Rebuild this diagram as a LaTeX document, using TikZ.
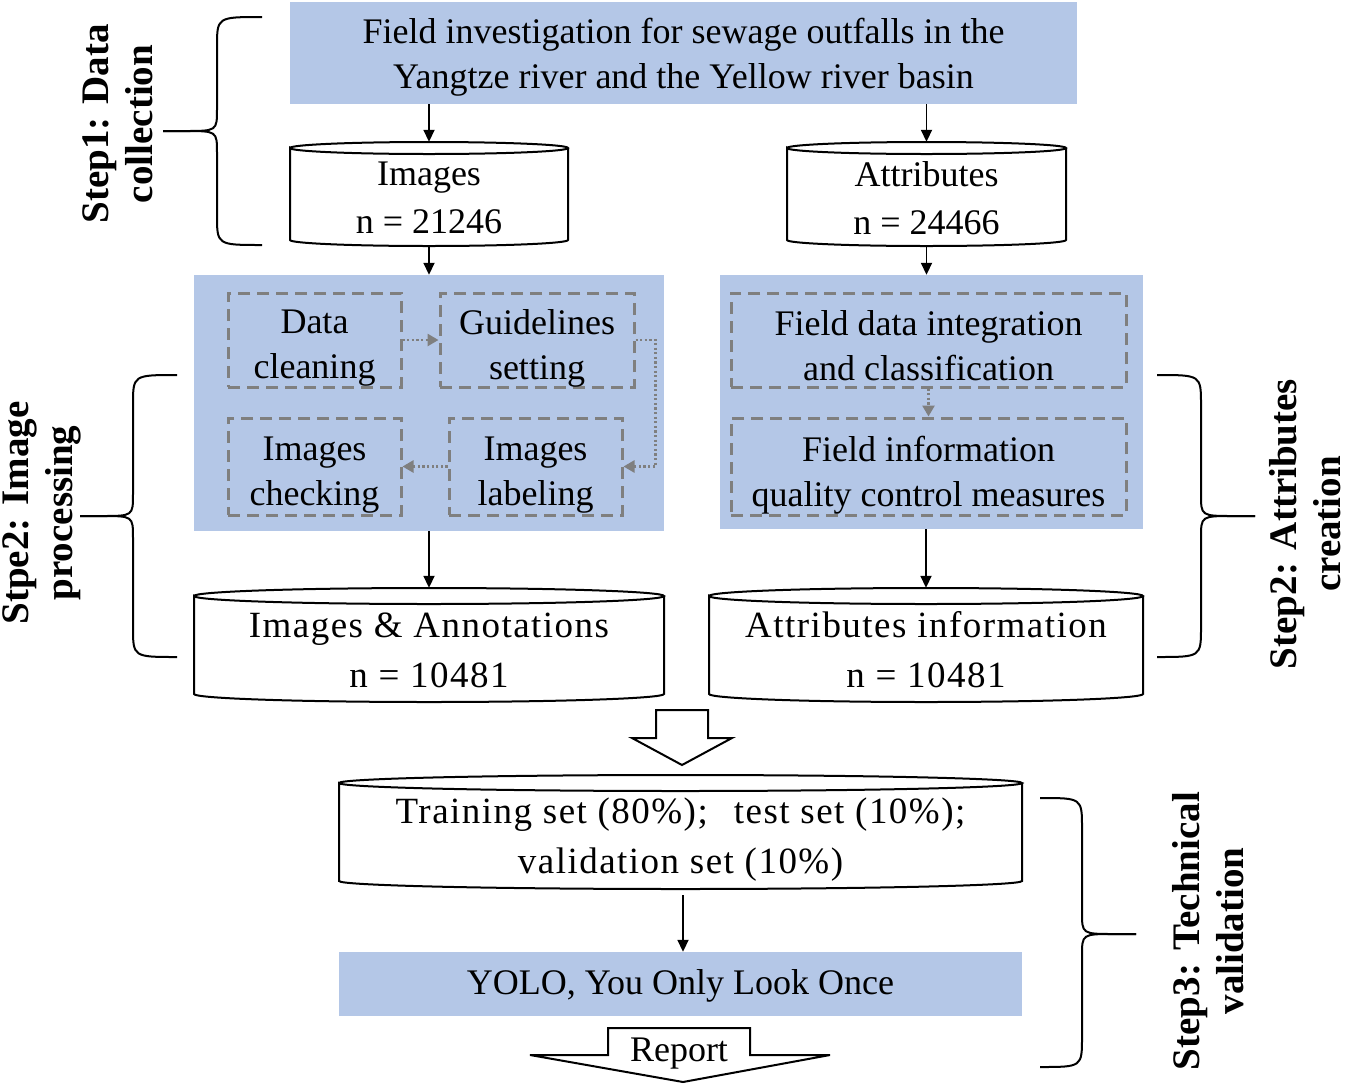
\documentclass[tikz,border=0pt]{standalone}
\usepackage{fontspec}
\setmainfont{Liberation Serif}
\usetikzlibrary{arrows.meta,calc}
\definecolor{boxblue}{HTML}{B4C7E7}
\definecolor{dgray}{HTML}{7F7F7F}
\newcommand\cylpath[5]{% x0, Ytop, x1, Ybot, ry
  \pgfmathsetmacro\cxr{(#3-#1)/2}%
  \pgfmathsetmacro\cyt{-(#2+#5)}%
  \pgfmathsetmacro\cyb{-(#4-#5)}%
  \draw[line width=2pt] (#1,\cyt) arc[start angle=180,end angle=-180,x radius=\cxr pt,y radius=#5 pt]
    -- (#1,\cyb) arc[start angle=180,end angle=360,x radius=\cxr pt,y radius=#5 pt] -- (#3,\cyt);
}
\newcommand\bracepath[6]{% xend, xmid, xtip, Ytop, Ytip, Ybot
  \pgfmathsetmacro\bA{#5-22}\pgfmathsetmacro\bB{#5+22}%
  \pgfmathsetmacro\bT{#4+30}\pgfmathsetmacro\bU{#6-30}%
  \pgfmathsetmacro\bX{#2+(#3-#2)*0.6}%
  \draw[line width=2pt] (#1,-#4) .. controls (#2,-#4) .. (#2,-\bT) -- (#2,-\bA) .. controls (#2,-#5) .. (\bX,-#5) -- (#3,-#5);
  \draw[line width=2pt] (#3,-#5) -- (\bX,-#5) .. controls (#2,-#5) .. (#2,-\bB) -- (#2,-\bU) .. controls (#2,-#6) .. (#1,-#6);
}
\begin{document}
\begin{tikzpicture}[x=1pt,y=1pt,
  txt/.style={font=\fontsize{36}{45}\selectfont, align=center, inner sep=0pt},
  cyltxt/.style={font=\fontsize{36}{48}\selectfont, align=center, inner sep=0pt},
  widetxt/.style={font=\fontsize{37}{50}\selectfont\addfontfeature{LetterSpace=4}, align=center, inner sep=0pt},
  geo/.style={inner sep=0pt},
  bluebox/.style={fill=boxblue, inner sep=0pt},
  dbox/.style={draw=dgray, line width=3pt, dash pattern=on 12pt off 7pt, inner sep=0pt},
  arr/.style={line width=1.8pt, -{Triangle[length=12pt,width=11pt]}},
  darr/.style={draw=dgray, line width=2.6pt, dash pattern=on 2.2pt off 2.4pt, -{Triangle[length=11pt,width=12pt,fill=dgray]}},
  lbl/.style={font=\bfseries\fontsize{39}{44}\selectfont, align=center, rotate=90, inner sep=0pt},
  hollow/.style={draw=black, line width=2pt, fill=white, line join=miter}
]
\useasboundingbox (0,0) rectangle (1350,-1085);
\fill[white] (0,0) rectangle (1350,-1085);

% Step 1
\node[bluebox, minimum width=787pt, minimum height=102pt] (top) at (683.5,-53) {};
\node[txt] (topt) at (683.5,-57)
  {Field investigation for sewage outfalls in the\\Yangtze river and the Yellow river basin};

\cylpath{290}{142}{568}{246}{6}
\node[geo, minimum width=278pt, minimum height=104pt] (img) at (429,-194) {};
\node[cyltxt] (imgt) at (429,-198) {Images\\n = 21246};
\cylpath{787}{142}{1066}{246}{6}
\node[geo, minimum width=279pt, minimum height=104pt] (att) at (926.5,-194) {};
\node[cyltxt] (attt) at (926.5,-198) {Attributes\\n = 24466};

\draw[arr] (top.south -| img.north) -- (img.north);
\draw[arr] (top.south -| att.north) -- (att.north);

% Step 2 boxes
\node[bluebox, minimum width=470pt, minimum height=256pt] (lb) at (429,-403) {};
\node[bluebox, minimum width=423pt, minimum height=254pt] (rb) at (931.5,-402) {};

\draw[arr] (img.south) -- (img.south |- lb.north);
\draw[arr] (att.south) -- (att.south |- rb.north);

\node[dbox, minimum width=173pt, minimum height=94pt] (dc) at (314.5,-340) {};
\node[txt] (dct) at (314.5,-348) {Data\\cleaning};
\node[dbox, minimum width=194pt, minimum height=94pt] (gs) at (537,-340) {};
\node[txt] (gst) at (537,-348) {Guidelines\\setting};
\node[dbox, minimum width=173pt, minimum height=97pt] (ic) at (314.5,-466.5) {};
\node[txt] (ict) at (314.5,-475) {Images\\checking};
\node[dbox, minimum width=173pt, minimum height=97pt] (il) at (535.5,-466.5) {};
\node[txt] (ilt) at (535.5,-475) {Images\\labeling};

\draw[darr] (dc.east) -- (gs.west);
\draw[darr] (gs.east) -- ++(20,0) |- (il.east);
\draw[darr] (il.west) -- (ic.east);

\node[dbox, minimum width=395pt, minimum height=94pt] (fd) at (928.5,-340) {};
\node[txt] (fdt) at (928.5,-345.5) {Field data integration\\and classification};
\node[dbox, minimum width=395pt, minimum height=97pt] (fq) at (928.5,-466.5) {};
\node[txt] (fqt) at (928.5,-475) {Field information\\quality control measures};
\draw[darr] (fd.south) -- (fq.north);

% lower cylinders
\cylpath{194}{588}{664}{702}{8}
\node[geo, minimum width=470pt, minimum height=114pt] (ia) at (429,-645) {};
\node[widetxt] (iat) at (429,-650) {Images \& Annotations\\n = 10481};
\cylpath{709}{588}{1143}{702}{8}
\node[geo, minimum width=434pt, minimum height=114pt] (ai) at (926,-645) {};
\node[widetxt] (ait) at (926,-650) {Attributes information\\n = 10481};

\draw[arr] (lb.south) -- (lb.south |- ia.north);
\draw[arr] (ai.north |- rb.south) -- (ai.north);

% hollow arrow
\coordinate (ha) at (682,-710);
\draw[hollow] ($(ha)+(-26,0)$) -- ($(ha)+(26,0)$) -- ($(ha)+(26,-28)$) -- ($(ha)+(50,-28)$)
  -- ($(ha)+(0,-55)$) -- ($(ha)+(-50,-28)$) -- ($(ha)+(-26,-28)$) -- cycle;

% Step 3
\cylpath{339}{775}{1022}{889}{8}
\node[geo, minimum width=683pt, minimum height=114pt] (tr) at (680.5,-832) {};
\node[widetxt] (trt) at (680.5,-840)
  {Training set (80\%);\hspace*{26pt}test set (10\%);\\validation set (10\%)};
\node[bluebox, minimum width=683pt, minimum height=64pt] (yolo) at (680.5,-984) {};
\node[txt] (yolot) at (680.5,-986) {YOLO, You Only Look Once};
\draw[arr] (683,-895) coordinate (trs) -- (trs |- yolo.north);

\coordinate (ra) at (683,-1028);
\draw[hollow] ($(ra)+(-75,0)$) -- ($(ra)+(67,0)$) -- ($(ra)+(67,-27)$) -- ($(ra)+(147,-27)$)
  -- ($(ra)+(0,-54)$) -- ($(ra)+(-153,-27)$) -- ($(ra)+(-75,-27)$) -- cycle;
\node[txt] (rep) at (679,-1054) {Report};

% braces
\bracepath{262}{217}{163}{17}{131}{245}
\bracepath{177}{133}{80}{375}{516}{657}
\bracepath{1157}{1201}{1255}{375}{516}{657}
\bracepath{1040}{1082}{1136}{798}{934}{1067}

\node[lbl] (l1) at (118,-124) {Step1: Data\\collection};
\node[lbl] (l2) at (42,-513) {Stpe2: Image\\processing};
\node[lbl] (l3) at (1305,-524) {Step2: Attributes\\creation};
\node[lbl] (l4) at (1208,-931) {Step3: Technical\\validation};
\end{tikzpicture}
\end{document}
